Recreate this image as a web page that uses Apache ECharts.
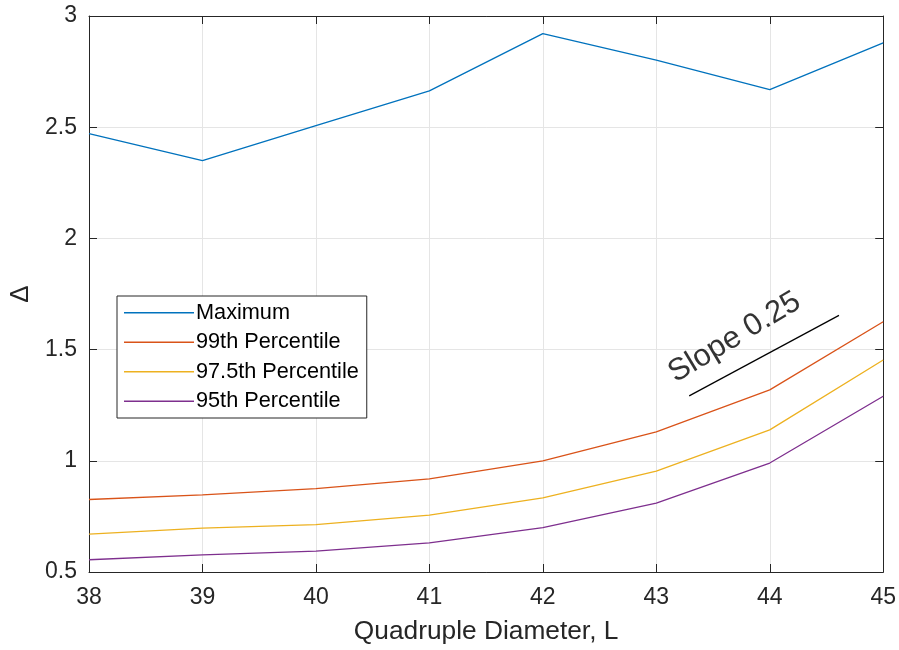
<!DOCTYPE html>
<html>
<head>
<meta charset="utf-8">
<script src="https://cdn.jsdelivr.net/npm/echarts@6/dist/echarts.min.js"></script>
<style>html,body{margin:0;padding:0;background:#fff;}#c{width:899px;height:650px;}</style>
</head>
<body>
<div id="c"></div>
<script>
const diameters = [38, 39, 40, 41, 42, 43, 44, 45];
const maximum = [2.471, 2.350, 2.507, 2.663, 2.921, 2.802, 2.669, 2.879];
const p99 = [0.826, 0.847, 0.875, 0.919, 1.000, 1.130, 1.319, 1.625];
const p975 = [0.670, 0.697, 0.713, 0.756, 0.833, 0.954, 1.139, 1.453];
const p95 = [0.555, 0.577, 0.594, 0.631, 0.700, 0.810, 0.990, 1.290];
const seriesNames = ['Maximum', '99th Percentile', '97.5th Percentile', '95th Percentile'];
const seriesColors = ['#0072BD', '#D95319', '#EDB120', '#7E2F8E'];
const slopeLine = [[43.29, 1.292], [44.61, 1.654]];
const slopeLabelPos = [43.69, 1.555];
const slopeLabel = 'Slope 0.25';
const xTicks = { min: 38, max: 45, interval: 1 };
const yTicks = { min: 0.5, max: 3, interval: 0.5 };

const FONT = '"Liberation Sans", Arial, Helvetica, sans-serif';
const AX = '#262626';
const chart = echarts.init(document.getElementById('c'), null, { renderer: 'canvas' });

const pair = (vals) => diameters.map((d, i) => [d, vals[i]]);
const allVals = [maximum, p99, p975, p95];

const baseAxis = {
  axisLine: { show: true, onZero: false, lineStyle: { color: AX, width: 1 } },
  axisTick: { show: true, inside: true, length: 8, lineStyle: { color: AX, width: 1 } },
};

const option = {
  backgroundColor: '#ffffff',
  animation: false,
  grid: { left: 88, right: 13, top: 16, bottom: 75, containLabel: false },
  xAxis: [
    Object.assign({}, baseAxis, {
      type: 'value', min: xTicks.min, max: xTicks.max, interval: xTicks.interval,
      position: 'bottom',
      name: 'Quadruple Diameter, L', nameLocation: 'middle', nameGap: 47,
      nameTextStyle: { color: AX, fontSize: 26.3, fontFamily: FONT },
      axisLabel: { color: AX, fontSize: 23, fontFamily: FONT, margin: 14 },
      splitLine: { show: true, lineStyle: { color: '#e5e5e5', width: 1 } }
    }),
    Object.assign({}, baseAxis, {
      type: 'value', min: xTicks.min, max: xTicks.max, interval: xTicks.interval,
      position: 'top', axisLabel: { show: false }, splitLine: { show: false }
    })
  ],
  yAxis: [
    Object.assign({}, baseAxis, {
      type: 'value', min: yTicks.min, max: yTicks.max, interval: yTicks.interval,
      position: 'left',
      name: 'Δ', nameLocation: 'middle', nameGap: 55, nameRotate: 90,
      nameTextStyle: { color: AX, fontSize: 26, fontFamily: FONT },
      axisLabel: { color: AX, fontSize: 23, fontFamily: FONT, margin: 12,
        formatter: v => String(v) },
      splitLine: { show: true, lineStyle: { color: '#e5e5e5', width: 1 } }
    }),
    Object.assign({}, baseAxis, {
      type: 'value', min: yTicks.min, max: yTicks.max, interval: yTicks.interval,
      position: 'right', axisLabel: { show: false }, splitLine: { show: false }
    })
  ],
  legend: {
    data: seriesNames,
    orient: 'vertical',
    left: 117, top: 296,
    backgroundColor: '#ffffff',
    borderColor: AX, borderWidth: 1,
    padding: [2, 8, 2, 7],
    icon: 'rect',
    itemWidth: 70, itemHeight: 1.4, itemGap: 0,
    textStyle: { color: '#000', fontSize: 21.7, fontFamily: FONT, lineHeight: 29.5, padding: [0, 0, 0, -3] },
    selectedMode: false
  },
  series: seriesNames.map((n, i) => ({
    name: n, type: 'line', data: pair(allVals[i]),
    symbol: 'none', showSymbol: false,
    lineStyle: { color: seriesColors[i], width: 1.3 },
    itemStyle: { color: seriesColors[i] },
    z: 3
  })).concat([
    {
      name: 'slope', type: 'line', data: slopeLine, symbol: 'none',
      lineStyle: { color: '#000', width: 1.2 }, itemStyle: { color: '#000' }, z: 4
    },
    {
      name: 'slopeText', type: 'scatter', data: [slopeLabelPos], symbolSize: 0,
      label: { show: true, position: 'inside', formatter: slopeLabel, rotate: 31,
        color: '#000', fontSize: 31, fontFamily: FONT },
      z: 5
    }
  ])
};
chart.setOption(option);
</script>
</body>
</html>
